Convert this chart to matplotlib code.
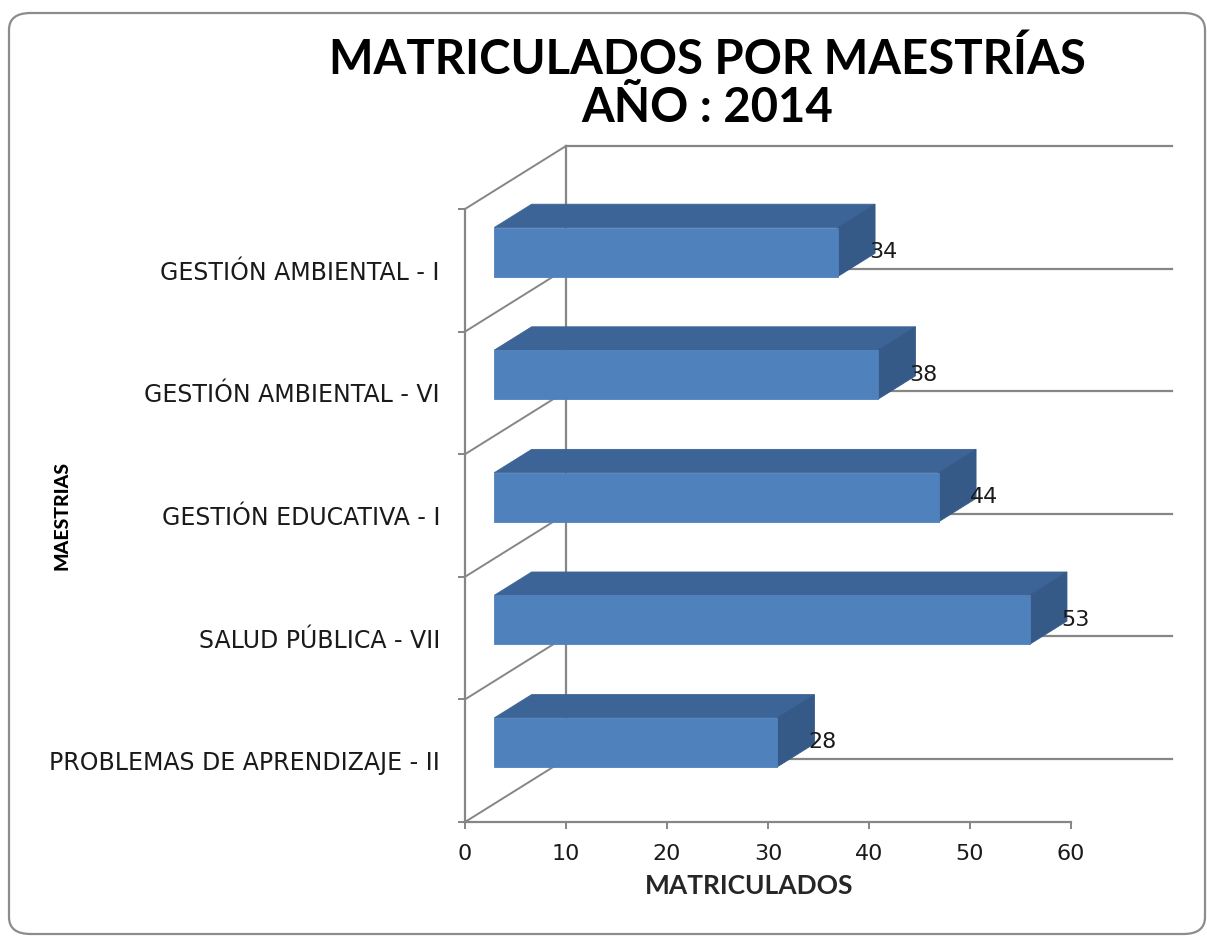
import matplotlib.pyplot as plt
from matplotlib.patches import Polygon, FancyBboxPatch

plt.rcParams['font.family'] = ['DejaVu Sans']

maestrias = ['PROBLEMAS DE APRENDIZAJE - II', 'SALUD PÚBLICA - VII',
             'GESTIÓN EDUCATIVA - I', 'GESTIÓN AMBIENTAL - VI',
             'GESTIÓN AMBIENTAL - I']
matriculados = [28, 53, 44, 38, 34]
x_ticks = [0, 10, 20, 30, 40, 50, 60]

# fake 3D: one full unit of depth shifts a point by (DX, DY) in data units
DX, DY = 10.0, 0.514
D_FRONT, D_BACK = 0.29, 0.66
BAR_H = 0.4
XMAX = 60

c_front = '#4f81bd'
c_top = '#3c6496'
c_side = '#365a87'
c_grid = '#868686'
c_text = '#1a1a1a'
head = ['Lato', 'DejaVu Sans']

fig = plt.figure(figsize=(12.07, 9.36), dpi=100)

# rounded frame around the whole chart
frame = FancyBboxPatch((9 / 1207, 2 / 936), 1196 / 1207, 921 / 936,
                       boxstyle='round,pad=0,rounding_size=0.018',
                       transform=fig.transFigure, fill=False,
                       edgecolor='#8c8c8c', linewidth=1.6)
fig.patches.append(frame)

ax = fig.add_axes([465 / 1207, 1 - 822 / 936, 707 / 1207, 676 / 936])
ax.set_xlim(0, XMAX + DX)
ax.set_ylim(0, len(maestrias) + DY)
ax.set_facecolor('none')


def P(x, y, d):
    return (x + d * DX, y + d * DY)


n = len(maestrias)
# back wall: gridlines and vertical edge
for k in range(n + 1):
    ax.plot([DX, XMAX + DX], [k + DY, k + DY], color=c_grid, lw=1.6,
            clip_on=False, zorder=1)
    # left wall lines
    ax.plot([0, DX], [k, k + DY], color=c_grid, lw=1.4,
            clip_on=False, zorder=1)
ax.plot([DX, DX], [DY, n + DY], color=c_grid, lw=1.6, clip_on=False, zorder=1)

# bars
for i, v in enumerate(matriculados):
    y0 = i + 0.5 - BAR_H / 2
    y1 = y0 + BAR_H
    top = [P(0, y1, D_FRONT), P(v, y1, D_FRONT), P(v, y1, D_BACK), P(0, y1, D_BACK)]
    side = [P(v, y0, D_FRONT), P(v, y0, D_BACK), P(v, y1, D_BACK), P(v, y1, D_FRONT)]
    face = [P(0, y0, D_FRONT), P(v, y0, D_FRONT), P(v, y1, D_FRONT), P(0, y1, D_FRONT)]
    for pts, col in ((top, c_top), (side, c_side), (face, c_front)):
        ax.add_patch(Polygon(pts, closed=True, facecolor=col, edgecolor=col,
                             lw=0.6, clip_on=False, zorder=3))
    lx, ly = P(v, i + 0.5, D_BACK)
    ax.text(lx - 0.6, i + 0.5 + D_FRONT * DY, str(v), ha='left', va='center',
            fontsize=16, color=c_text, zorder=4)

# front axes
for s in ('top', 'right'):
    ax.spines[s].set_visible(False)
ax.spines['bottom'].set_bounds(0, XMAX)
ax.spines['left'].set_bounds(0, n)
for s in ('bottom', 'left'):
    ax.spines[s].set_color(c_grid)
    ax.spines[s].set_linewidth(1.6)

ax.set_xticks(x_ticks)
ax.set_xticklabels([str(t) for t in x_ticks])
ax.tick_params(axis='x', direction='out', length=5, width=1.4, color=c_grid,
               pad=11, labelsize=16, labelcolor=c_text)
ax.set_yticks(range(n + 1))
ax.set_yticklabels([])
ax.set_yticks([k + 0.5 for k in range(n)], minor=True)
ax.set_yticklabels(maestrias, minor=True)
ax.tick_params(axis='y', which='major', direction='out', length=5,
               width=1.4, color=c_grid)
ax.tick_params(axis='y', which='minor', length=0, pad=18, labelsize=17,
               labelcolor=c_text)

fig.text(707 / 1207, 1 - 60 / 936, 'MATRICULADOS POR MAESTRÍAS', ha='center',
         va='center', fontsize=34, fontweight='bold', family=head)
fig.text(707 / 1207, 1 - 108 / 936, 'AÑO : 2014', ha='center', va='center',
         fontsize=34, fontweight='bold', family=head)
fig.text(62 / 1207, 1 - 515 / 936, 'MAESTRIAS', ha='center', va='center',
         rotation=90, fontsize=14, fontweight='black', family=head)
fig.text(749 / 1207, 1 - 886 / 936, 'MATRICULADOS', ha='center', va='center',
         fontsize=19, fontweight='bold', family=head, color='#262626')

fig.savefig('out.png', dpi=100)
